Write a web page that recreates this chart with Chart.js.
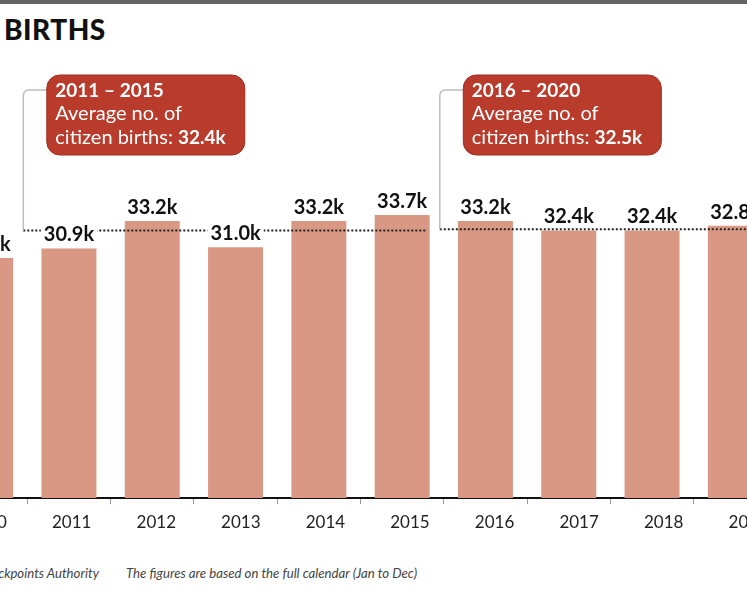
<!DOCTYPE html>
<html>
<head>
<meta charset="utf-8">
<script src="https://cdn.jsdelivr.net/npm/chart.js@4"></script>
<style>
  html, body { margin: 0; padding: 0; background: #fff; }
  body { width: 747px; height: 598px; overflow: hidden; position: relative; font-family: Lato, sans-serif; }
  #topbar { position: absolute; left: 0; top: 0; width: 747px; height: 4px; background: #636363; }
  #title { position: absolute; left: 4px; top: 12px; font-size: 28px; line-height: 34px; font-weight: 900; letter-spacing: 0.5px; color: #111; white-space: nowrap; }
  #chartBox { position: absolute; left: -56px; top: 0; width: 833px; height: 560px; }
  .note { position: absolute; top: 565px; font-size: 13.2px; font-style: italic; color: #444; white-space: nowrap; }
  #source { right: 648px; }
  #remark { left: 126px; }
</style>
</head>
<body>
<div id="topbar"></div>
<div id="title">BIRTHS</div>
<div id="chartBox"><canvas id="birthsChart"></canvas></div>
<div class="note" id="source">Source: Immigration &amp; Checkpoints Authority</div>
<div class="note" id="remark">The figures are based on the full calendar (Jan to Dec)</div>

<script>
// данные (тыс.)
const years = ['2010', '2011', '2012', '2013', '2014', '2015', '2016', '2017', '2018', '2019'];
const births = [30.1, 30.9, 33.2, 31.0, 33.2, 33.7, 33.2, 32.4, 32.4, 32.8];

// средние по пятилеткам
const periodStart = ['2011', '2016'];
const periodEnd = ['2015', '2020'];
const periodAvg = [32.4, 32.5];

const barColor = '#d99883';
const boxColor = '#b83b2b';

// пунктир, выноски и подписи над столбцами
const annotationPlugin = {
    id: 'annotations',
    afterDatasetsDraw(chart) {
        const ctx = chart.ctx;
        const x = chart.scales.x;
        const y = chart.scales.y;
        const area = chart.chartArea;
        const step = x.getPixelForValue(1) - x.getPixelForValue(0);

        ctx.save();
        periodAvg.forEach((avg, i) => {
            const si = years.indexOf(periodStart[i]);
            const ei = years.indexOf(periodEnd[i]);
            const lineY = y.getPixelForValue(avg);
            const x0 = x.getPixelForValue(si) - step / 2 - 4;
            const x1 = ei >= 0 ? x.getPixelForValue(ei) + step / 2 - 17 : area.right;

            // пунктир
            ctx.beginPath();
            ctx.setLineDash([2, 2]);
            ctx.lineWidth = 2;
            ctx.strokeStyle = '#222';
            ctx.moveTo(x0, lineY);
            ctx.lineTo(x1, lineY);
            ctx.stroke();
            ctx.setLineDash([]);

            // выноска
            const boxX = x0 + 23.5, boxY = 75, boxW = 198, boxH = 80;
            const joinY = 90, r = 6;
            ctx.beginPath();
            ctx.lineWidth = 1.5;
            ctx.strokeStyle = '#bdbdbd';
            ctx.moveTo(x0, lineY);
            ctx.lineTo(x0, joinY + r);
            ctx.quadraticCurveTo(x0, joinY, x0 + r, joinY);
            ctx.lineTo(boxX, joinY);
            ctx.stroke();

            ctx.beginPath();
            ctx.roundRect(boxX, boxY, boxW, boxH, 13);
            ctx.fillStyle = boxColor;
            ctx.fill();
            ctx.lineWidth = 1;
            ctx.strokeStyle = '#a22d1f';
            ctx.stroke();

            ctx.fillStyle = '#fff';
            ctx.textAlign = 'left';
            ctx.textBaseline = 'alphabetic';
            const tx = boxX + 8.5;
            ctx.font = 'bold 19px Lato';
            ctx.fillText(periodStart[i] + ' \u2013 ' + periodEnd[i], tx, boxY + 22);
            ctx.font = '20px Lato';
            ctx.fillText('Average no. of', tx, boxY + 45);
            const lead = 'citizen births: ';
            ctx.fillText(lead, tx, boxY + 69);
            const w = ctx.measureText(lead).width;
            ctx.font = 'bold 19px Lato';
            ctx.fillText(avg.toFixed(1) + 'k', tx + w, boxY + 69);
        });

        // подписи над столбцами
        const meta = chart.getDatasetMeta(0);
        ctx.font = 'bold 20px Lato';
        ctx.textAlign = 'center';
        ctx.textBaseline = 'alphabetic';
        meta.data.forEach((bar, i) => {
            const text = births[i].toFixed(1) + 'k';
            const tw = ctx.measureText(text).width;
            const base = bar.y - 7;
            ctx.fillStyle = '#fff';
            ctx.fillRect(bar.x - tw / 2 - 3, base - 17, tw + 6, 19);
            ctx.fillStyle = '#111';
            ctx.fillText(text, bar.x, base);
        });
        ctx.restore();
    }
};

new Chart(document.getElementById('birthsChart').getContext('2d'), {
    type: 'bar',
    data: {
        labels: years,
        datasets: [{
            data: births,
            backgroundColor: barColor,
            borderWidth: 0,
            categoryPercentage: 1,
            barPercentage: 0.66
        }]
    },
    options: {
        responsive: true,
        maintainAspectRatio: false,
        animation: false,
        layout: { padding: { top: 80, left: 0, right: 0, bottom: 0 } },
        plugins: {
            legend: { display: false },
            tooltip: { enabled: false }
        },
        scales: {
            y: { display: false, min: 10, max: 45 },
            x: {
                afterFit: function(scale) { scale.height = 8; },
                grid: { drawOnChartArea: false, tickLength: 6, color: '#9a9a9a', lineWidth: 1 },
                border: { display: true, color: '#111', width: 2 },
                ticks: { display: false }
            },
            // подписи годов идут с чуть большим шагом, чем столбцы (как в оригинале)
            xYears: {
                type: 'linear',
                position: 'bottom',
                offset: false,
                bounds: 'data',
                min: -0.51,
                max: 9.34,
                afterFit: function(scale) { scale.height = 54; },
                afterBuildTicks: function(scale) {
                    scale.ticks = years.map((_, i) => ({ value: i }));
                },
                grid: { display: false, drawTicks: false, offset: false },
                border: { display: false },
                ticks: {
                    stepSize: 1,
                    callback: v => years[v],
                    font: { family: 'Lato', size: 17 },
                    color: '#222',
                    padding: 6,
                    maxRotation: 0,
                    autoSkip: false
                }
            }
        }
    },
    plugins: [annotationPlugin]
});
</script>
</body>
</html>
